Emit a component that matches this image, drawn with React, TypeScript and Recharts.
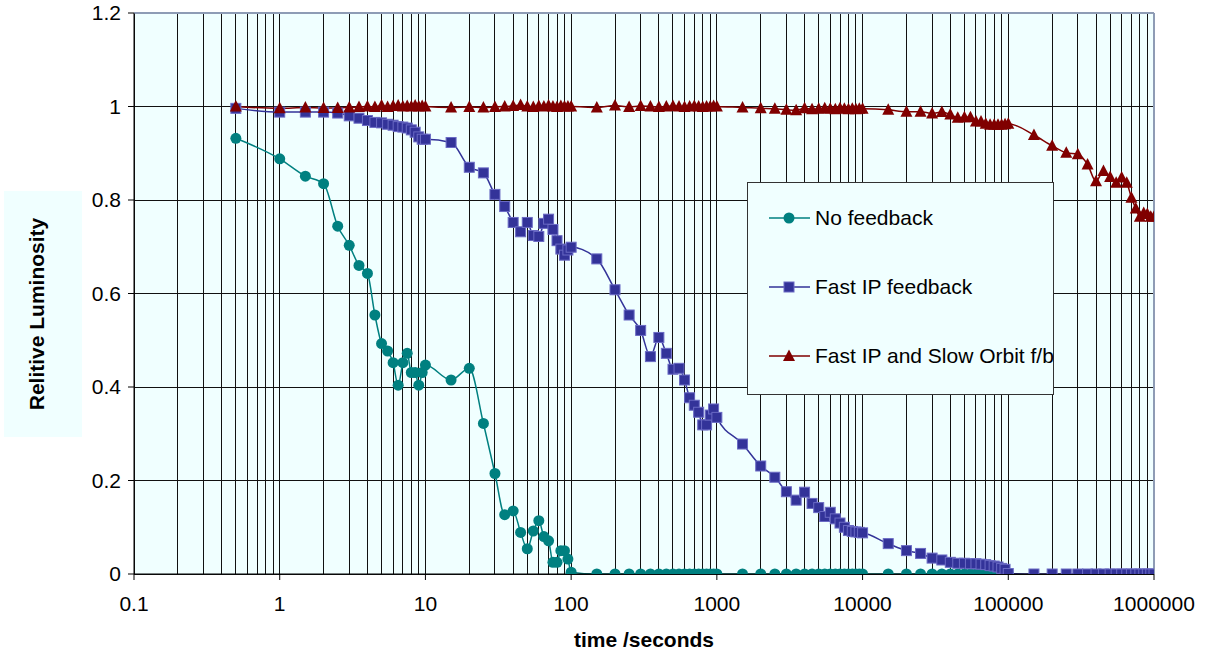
import React from 'react';
import { LineChart, Line, XAxis, YAxis, CartesianGrid, Legend, ReferenceLine } from 'recharts';

const TEAL = '#008080';
const BLUE = '#333399';
const RED = '#800000';
const FONT = '"Liberation Sans", Arial, Helvetica, sans-serif';

// time points (seconds) shared by all three runs
const time = [
  0.5, 1, 1.5, 2, 2.5, 3, 3.5, 4, 4.5, 5, 5.5, 6, 6.5, 7, 7.5, 8, 8.5, 9, 9.5, 10,
  15, 20, 25, 30, 35, 40, 45, 50, 55, 60, 65, 70, 75, 80, 85, 90, 95, 100,
  150, 200, 250, 300, 350, 400, 450, 500, 550, 600, 650, 700, 750, 800, 850, 900, 950, 1000,
  1500, 2000, 2500, 3000, 3500, 4000, 4500, 5000, 5500, 6000, 6500, 7000, 7500, 8000, 8500, 9000, 9500, 10000,
  15000, 20000, 25000, 30000, 35000, 40000, 45000, 50000, 55000, 60000, 65000, 70000, 75000, 80000, 85000, 90000, 95000, 100000,
  150000, 200000, 250000, 300000, 350000, 400000, 450000, 500000, 550000, 600000, 650000, 700000, 750000, 800000, 850000, 900000, 950000, 1000000,
];

const noFeedback = [
  0.932, 0.888, 0.851, 0.835, 0.744, 0.703, 0.66, 0.643, 0.554, 0.493, 0.477, 0.452, 0.404, 0.452, 0.472, 0.431, 0.431, 0.404, 0.431, 0.447,
  0.415, 0.44, 0.322, 0.215, 0.127, 0.135, 0.089, 0.054, 0.092, 0.114, 0.08, 0.071, 0.025, 0.025, 0.05, 0.05, 0.032, 0.004,
  0, 0, 0, 0, 0, 0, 0, 0, 0, 0, 0, 0, 0, 0, 0, 0, 0, 0,
  0, 0, 0, 0, 0, 0, 0, 0, 0, 0, 0, 0, 0, 0, 0, 0, 0, 0,
  0, 0, 0, 0, 0, 0, 0, 0, 0, 0, 0, 0, 0, 0, 0, 0, 0, 0,
];

const fastIP = [
  0.996, 0.988, 0.988, 0.988, 0.986, 0.98, 0.975, 0.97, 0.966, 0.965, 0.962, 0.96, 0.957, 0.956, 0.954, 0.95, 0.945, 0.935, 0.93, 0.93,
  0.923, 0.87, 0.858, 0.812, 0.786, 0.752, 0.732, 0.752, 0.724, 0.722, 0.75, 0.759, 0.737, 0.713, 0.695, 0.682, 0.693, 0.699,
  0.674, 0.608, 0.554, 0.521, 0.465, 0.506, 0.472, 0.438, 0.44, 0.415, 0.377, 0.361, 0.346, 0.319, 0.319, 0.34, 0.353, 0.335,
  0.278, 0.231, 0.207, 0.176, 0.158, 0.175, 0.151, 0.142, 0.123, 0.132, 0.118, 0.109, 0.1, 0.093, 0.091, 0.09, 0.089, 0.088,
  0.065, 0.05, 0.044, 0.034, 0.03, 0.025, 0.023, 0.023, 0.022, 0.022, 0.021, 0.02, 0.018, 0.017, 0.015, 0.012, 0.01, 0.001,
  0, 0, 0, 0, 0, 0, 0, 0, 0, 0, 0, 0, 0, 0, 0, 0, 0, 0,
];

const fastIPSlowOrbit = [
  1.0, 0.996, 0.998, 0.997, 0.997, 0.998, 0.999, 1.0, 0.999, 1.002, 0.999, 1.001, 1.002, 1.0, 1.001, 1.0, 1.002, 1.0, 1.001, 1.0,
  0.998, 0.999, 0.998, 0.999, 1.0, 1.001, 1.003, 1.0, 0.999, 1.001, 1.0, 1.002, 1.0, 0.999, 1.001, 1.0, 1.0, 1.0,
  0.998, 1.002, 0.999, 1.001, 1.0, 0.999, 1.0, 1.001, 1.0, 0.999, 1.0, 1.001, 1.0, 0.999, 1.0, 1.0, 1.001, 1.0,
  0.998, 0.996, 0.995, 0.993, 0.992, 0.996, 0.994, 0.995, 0.996, 0.995, 0.994, 0.996, 0.995, 0.994, 0.995, 0.994, 0.995, 0.995,
  0.993, 0.989, 0.989, 0.985, 0.988, 0.983, 0.976, 0.977, 0.977, 0.968, 0.968, 0.963, 0.961, 0.961, 0.961, 0.961, 0.962, 0.963,
  0.939, 0.916, 0.901, 0.898, 0.876, 0.84, 0.862, 0.849, 0.837, 0.848, 0.837, 0.805, 0.782, 0.764, 0.772, 0.77, 0.764, 0.764,
];

const xTicks = [0.1, 1, 10, 100, 1000, 10000, 100000, 1000000];
const yTicks = [0, 0.2, 0.4, 0.6, 0.8, 1, 1.2];
const minorSteps = [1, 2, 3, 4, 5, 6, 7, 8, 9];
const gridX = xTicks.slice(0, -1).flatMap(d => minorSteps.map(m => d * m)).concat([1000000]);

const toPoints = (vals: number[]) => vals.map((v, i) => ({ x: time[i], y: v }));

const legendItems = [
  { name: 'No feedback', color: TEAL, shape: 'circle' },
  { name: 'Fast IP feedback', color: BLUE, shape: 'square' },
  { name: 'Fast IP and Slow Orbit f/b', color: RED, shape: 'triangle' },
];

const Marker = ({ shape, cx, cy, color }: any) => {
  if (shape === 'circle') return <circle cx={cx} cy={cy} r={5.5} fill={color} />;
  if (shape === 'square')
    return <rect x={cx - 5} y={cy - 5} width={10} height={10} fill={color} stroke="#6a6ac4" strokeWidth={1} />;
  return <polygon points={`${cx},${cy - 6.5} ${cx - 6},${cy + 5} ${cx + 6},${cy + 5}`} fill={color} />;
};

const makeDot = (shape: string, color: string) => (p: any) => {
  if (p.cx == null || p.cy == null) return <g key={`e-${p.index}`} />;
  return <g key={`${shape}-${p.index}`}><Marker shape={shape} cx={p.cx} cy={p.cy} color={color} /></g>;
};

const LegendBox = () => (
  <svg width={308} height={214} style={{ display: 'block', fontFamily: FONT }}>
    <rect x={0.5} y={0.5} width={306} height={212} fill="#F0FFFF" stroke="#333" strokeWidth={1} />
    {legendItems.map((it, i) => {
      const y = 36 + i * 69;
      return (
        <g key={it.name}>
          <line x1={22} x2={63} y1={y} y2={y} stroke={it.color} strokeWidth={1.5} />
          <Marker shape={it.shape} cx={42} cy={y} color={it.color} />
          <text x={68} y={y} dy="0.35em" fontSize={21} fill="#000">{it.name}</text>
        </g>
      );
    })}
  </svg>
);

const fmt = (v: number) => String(v);

const YLabel = () => (
  <g>
    <rect x={4} y={191} width={78} height={246} fill="#F0FFFF" />
    <text x={36} y={314} transform="rotate(-90 36 314)" textAnchor="middle" dominantBaseline="central"
      fontSize={21} fontWeight="bold" fill="#000" fontFamily={FONT}>
      Relitive Luminosity
    </text>
  </g>
);

const XLabel = (props: any) => {
  const vb = props.viewBox || { x: 134, y: 574, width: 1020 };
  return (
    <text x={vb.x + vb.width / 2} y={647} textAnchor="middle" fontSize={21} fontWeight="bold" fill="#000" fontFamily={FONT}>
      time /seconds
    </text>
  );
};

export default function App() {
  return (
    <div style={{ position: 'absolute', left: 0, top: 0, width: 1214, height: 653, background: '#fff', fontFamily: FONT }}>
      <LineChart width={1214} height={653} margin={{ top: 13, right: 60, bottom: 0, left: 0 }}>
        <CartesianGrid stroke="#111" strokeWidth={1} fill="#F0FFFF" fillOpacity={1} shapeRendering="crispEdges"
          verticalValues={gridX} horizontalValues={yTicks} />
        <XAxis dataKey="x" type="number" scale="log" domain={[0.1, 1000000]} allowDataOverflow
          ticks={xTicks} interval={0} tickFormatter={fmt} height={79} stroke="#000"
          tick={{ fontSize: 21, fill: '#000', fontFamily: FONT }} tickSize={6} tickMargin={16}
          label={<XLabel />} />
        <YAxis type="number" domain={[0, 1.2]} allowDataOverflow ticks={yTicks} interval={0}
          tickFormatter={fmt} width={134} stroke="#000" tickSize={6} tickMargin={7}
          tick={{ fontSize: 21, fill: '#000', fontFamily: FONT }} label={<YLabel />} />
        <ReferenceLine y={1.2} stroke="#8e9cb5" strokeWidth={2} />
        <ReferenceLine x={1000000} stroke="#8e9cb5" strokeWidth={2} />
        <Line data={toPoints(noFeedback)} dataKey="y" name="No feedback" type="monotone" stroke={TEAL}
          strokeWidth={1.5} dot={makeDot('circle', TEAL)} activeDot={false} isAnimationActive={false} />
        <Line data={toPoints(fastIP)} dataKey="y" name="Fast IP feedback" type="monotone" stroke={BLUE}
          strokeWidth={1.5} dot={makeDot('square', BLUE)} activeDot={false} isAnimationActive={false} />
        <Line data={toPoints(fastIPSlowOrbit)} dataKey="y" name="Fast IP and Slow Orbit f/b" type="monotone" stroke={RED}
          strokeWidth={1.5} dot={makeDot('triangle', RED)} activeDot={false} isAnimationActive={false} />
        <Legend layout="horizontal" verticalAlign="middle" align="center" content={<LegendBox />}
          wrapperStyle={{ left: 747, top: 182, width: 308, height: 214 }} />
      </LineChart>
    </div>
  );
}
